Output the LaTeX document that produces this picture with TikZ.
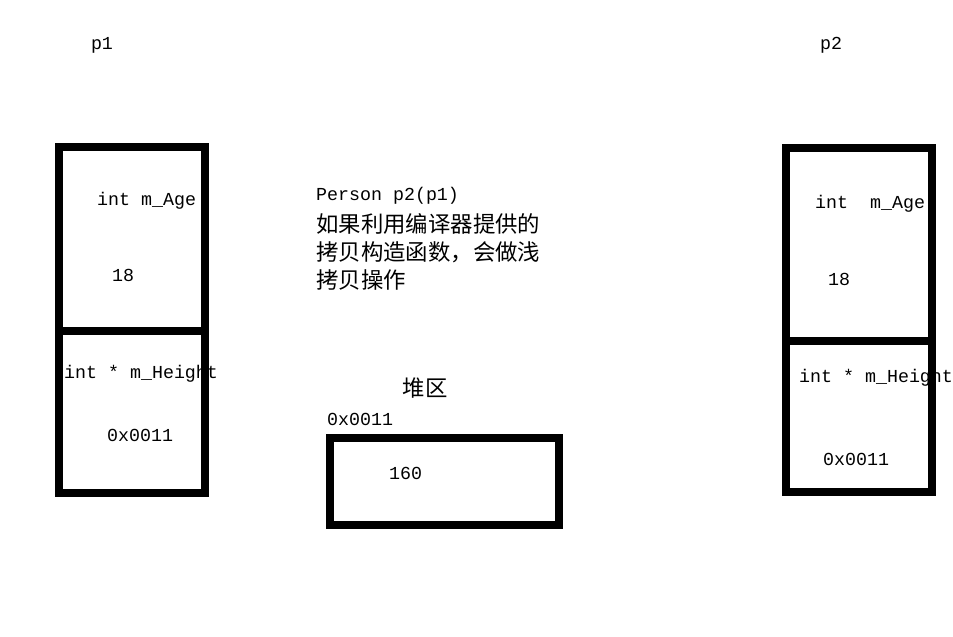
\documentclass[tikz,border=0pt]{standalone}
\usepackage{fontspec}
\setmonofont{Liberation Mono}
\newfontfamily\cjk{Noto Sans CJK SC}
\begin{document}
\begin{tikzpicture}[x=1pt,y=-1pt,
  lbl/.style={inner sep=0pt,anchor=west,font=\ttfamily\fontsize{18.3}{20}\selectfont},
  cjklbl/.style={inner sep=0pt,anchor=west,font=\cjk\fontsize{22.4}{24}\selectfont},
  mem/.style={draw=black,line width=8pt,miter limit=10}]
\useasboundingbox (0,0) rectangle (953,637);
\fill[white] (0,0) rectangle (953,637);
% titles
\node[lbl,anchor=center] (t1) at (102,45) {p1};
\node[lbl,anchor=center] (t2) at (831,45) {p2};
% p1 texts
\node[lbl] (a1) at (97,201) {int m\_Age};
\node[lbl] (v1) at (112,275) {18};
\node[lbl] (h1) at (64,374) {int * m\_Height};
\node[lbl] (x1) at (107,435) {0x0011};
% p2 texts
\node[lbl] (a2) at (815,204) {int\ \ m\_Age};
\node[lbl] (v2) at (828,279) {18};
\node[lbl] (h2) at (799,378) {int * m\_Height};
\node[lbl] (x2) at (823,459) {0x0011};
% middle texts
\node[lbl] (cp) at (316,196) {Person p2(p1)};
\node[cjklbl] (c1) at (316,224) {如果利用编译器提供的};
\node[cjklbl] (c2) at (316,252) {拷贝构造函数，会做浅};
\node[cjklbl] (c3) at (316,280) {拷贝操作};
\node[cjklbl,anchor=center] (heap) at (425,388) {堆区};
\node[lbl] (addr) at (327,419) {0x0011};
\node[lbl] (val) at (389,473) {160};
% boxes
\draw[mem] (59,147) rectangle (205,493);
\draw[mem] (59,331) -- (205,331);
\draw[mem] (786,148) rectangle (932,492);
\draw[mem] (786,341) -- (932,341);
\draw[mem] (330,438) rectangle (559,525);
\end{tikzpicture}
\end{document}
